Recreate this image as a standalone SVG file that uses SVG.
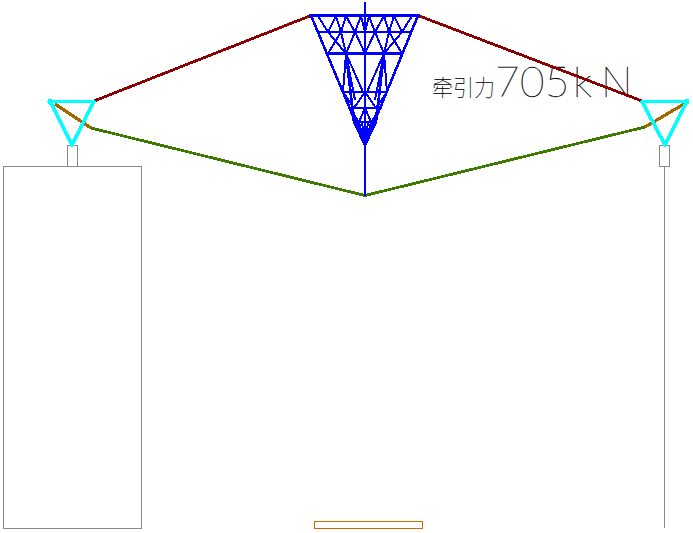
<svg xmlns="http://www.w3.org/2000/svg" width="693" height="533" viewBox="0 0 693 533" shape-rendering="crispEdges">
<style>
.g{fill:none;stroke:#8a8a8a;stroke-width:1}
.t{stroke:#0000ff;stroke-width:2.6;fill:none;stroke-linecap:round}
.th{stroke:#0000ff;stroke-width:2;fill:none}
.red{stroke:#8b0000;stroke-width:2.8;fill:none}
.grn{stroke:#3f7a00;stroke-width:2.8;fill:none}
.brn{stroke:#a06a00;stroke-width:3.2;fill:none}
.cy{stroke:#00ffff;stroke-width:3.6;fill:none;stroke-linejoin:round}
.lbl{fill:#000;stroke:#000;stroke-width:.35;opacity:.99}
</style>
<g id="left-pier"><rect class="g" x="3.500" y="166.500" width="138" height="362"/><rect class="g" x="67.500" y="145.500" width="10" height="21"/></g>
<g id="right-pier"><rect class="g" x="659.500" y="145.500" width="10" height="21"/><path class="g" d="M664.500 166.500V528"/></g>
<g id="deck"><rect x="314.500" y="521.500" width="108" height="7" fill="none" stroke="#cc6a00" stroke-width="1"/></g>
<g id="label">
<text class="lbl" x="432" y="96" font-size="23" textLength="63" lengthAdjust="spacingAndGlyphs" style="font-family:'Noto Sans CJK SC','Liberation Sans',sans-serif;font-weight:100;stroke-width:.1">牵引力</text>
<text class="lbl" x="495 520 545 573 601" y="97" font-size="42" style="font-family:Lato,'Liberation Sans',sans-serif;font-weight:100">705kN</text>
</g>
<g id="connectors">
<path class="red" d="M94 101L311 15.500M418 15.500L642 101"/>
<path class="grn" d="M91 128L365 195.500L645 127"/>
</g>
<g id="truss">
<path class="t" d="M365 3V195"/>
<path class="t" d="M311 15.500H418L365 145Z"/>
<path class="t" d="M318 32H411M327 53.500H402M343 92H387M349 108H381M354 122H376"/>
<g id="truss-half">
<path class="th" d="M318 16L328 32L346 53.500L355 100M328 32L336 16L341 32L346 53.500L363 92M341 32L346 16L355 32L361 16L365 32M328 53.500L341 32M355 32L346 53.500M355 32L365 53.500M346 53.500L343 92"/>
<path class="t" d="M346 53.500L354 122L365 145"/>
<path class="th" d="M343 92L354 108L365 92M349 108L359 122L365 108M359 122L365 145M362 122L365 145M352 108L365 145"/>
</g>
<use href="#truss-half" transform="matrix(-1 0 0 1 730 0)"/>
</g>
<g id="left-block">
<path class="brn" d="M55 104L91 128"/>
<path class="cy" d="M50 101.500H94L72 145Z"/>
<circle cx="50" cy="101.500" r="2.500" fill="#00ffff"/>
</g>
<g id="right-block">
<path class="brn" d="M645 127L684 104"/>
<path class="cy" d="M642 101.500H687L665 145Z"/>
<circle cx="687" cy="101.500" r="2.500" fill="#00ffff"/>
</g>
</svg>
